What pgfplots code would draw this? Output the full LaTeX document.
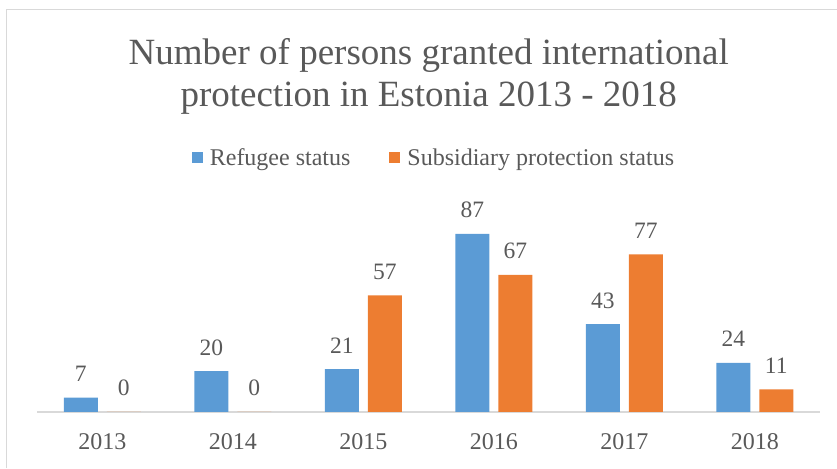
\documentclass[border=0pt]{standalone}
\usepackage{pgfplots}
\pgfplotsset{compat=1.18}
\usepackage{fontspec}
\setmainfont{Liberation Serif}
\definecolor{cblue}{HTML}{5B9BD5}
\definecolor{corange}{HTML}{ED7D31}
\definecolor{ctext}{HTML}{595959}
\definecolor{cgrid}{HTML}{D9D9D9}
\begin{document}
\begin{tikzpicture}[x=1pt,y=1pt]
\useasboundingbox (0,0) rectangle (837,468);
\draw[cgrid,line width=1pt] (6,0) -- (6,458) -- (837,458);
\node[text=ctext,anchor=base,inner sep=0pt,font=\fontsize{37}{42}\selectfont] at (428.7,403) {Number of persons granted international};
\node[text=ctext,anchor=base,inner sep=0pt,font=\fontsize{37}{42}\selectfont] at (428.7,361) {protection in Estonia 2013 - 2018};
\begin{axis}[
  at={(37pt,56pt)}, anchor=south west,
  scale only axis, width=783pt, height=204.6pt,
  xmin=-0.5, xmax=5.5, ymin=0, ymax=100,
  ybar, bar width=34pt,
  axis x line*=bottom, hide y axis,
  x axis line style={cgrid,line width=1.2pt,-},
  xtick=data, xticklabels={2013,2014,2015,2016,2017,2018},
  major tick length=0pt,
  xticklabel style={text=ctext,font=\fontsize{24}{26}\selectfont,anchor=north,inner sep=0pt,yshift=-21pt},
  /pgf/number format/assume math mode=true,
  nodes near coords,
  every node near coord/.append style={text=ctext,font=\fontsize{23.5}{26}\selectfont,anchor=base,inner sep=0pt,yshift=16pt},
  legend columns=2,
  legend style={at={(0.5057,1.244)},anchor=center,draw=none,fill=none,
    font=\fontsize{24}{26}\selectfont,text=ctext,
    nodes={inner sep=0pt},
    /tikz/every odd column/.append style={column sep=7pt},
    /tikz/every even column/.append style={column sep=39pt}},
  legend image code/.code={\fill[#1,draw=none] (0pt,-5.5pt) rectangle (11pt,5.5pt);},
]
\addplot[fill=cblue,draw=none,bar shift=-21.5pt] coordinates {(0,7) (1,20) (2,21) (3,87) (4,43) (5,24)};
\addplot[fill=corange,draw=none,bar shift=21.5pt] coordinates {(0,0) (1,0) (2,57) (3,67) (4,77) (5,11)};
\legend{Refugee status,Subsidiary protection status}
\end{axis}
\end{tikzpicture}
\end{document}
